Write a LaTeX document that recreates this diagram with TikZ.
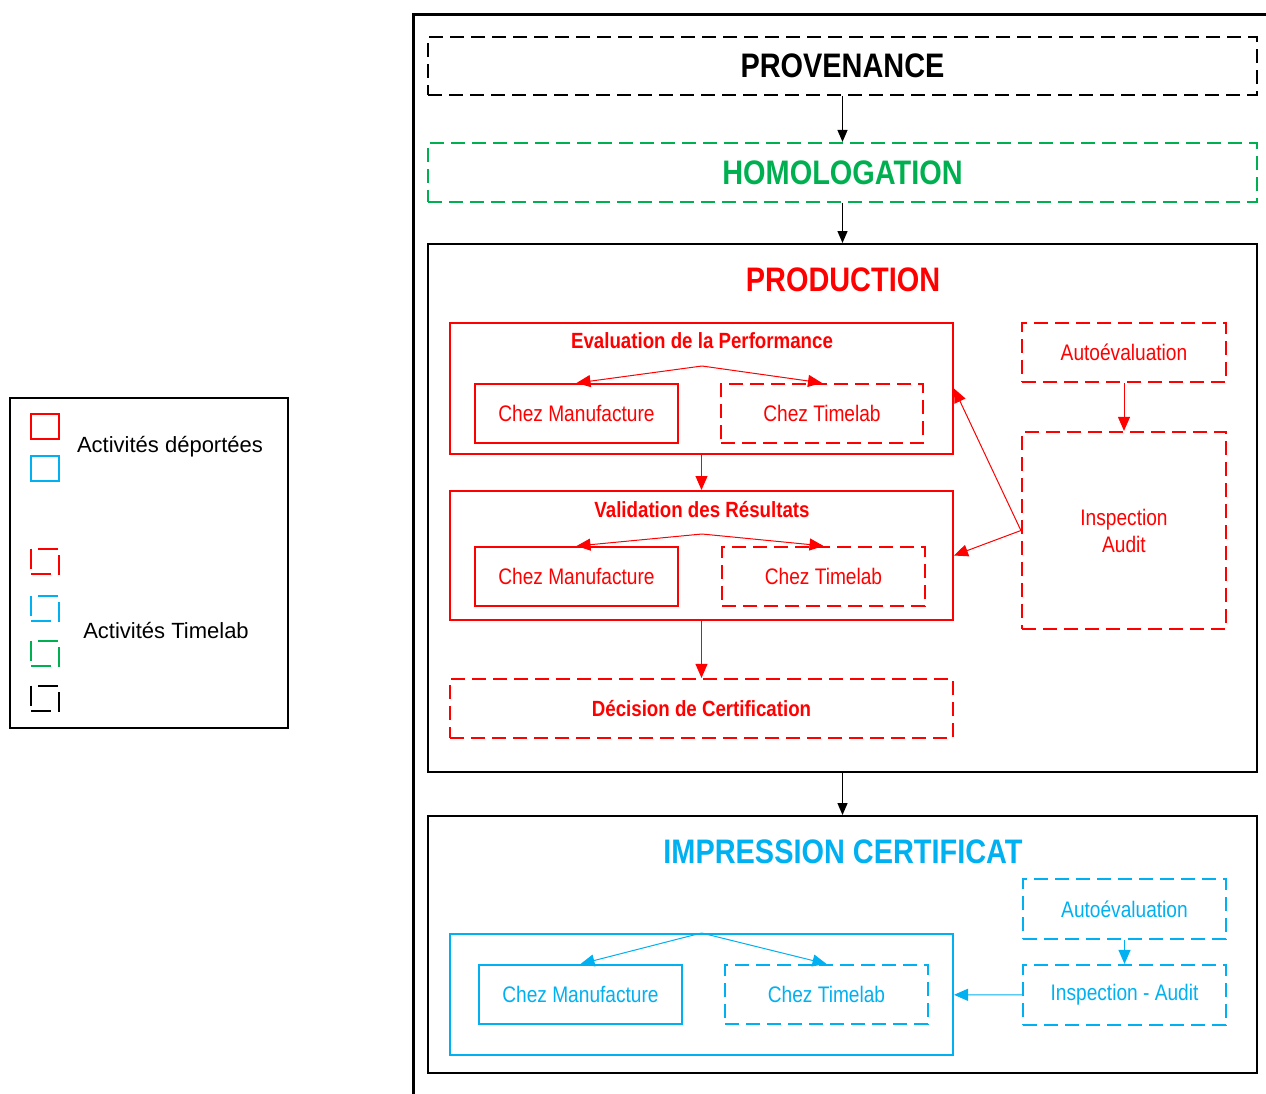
\documentclass[tikz,border=0pt]{standalone}
\usepackage{fontspec}
\setmainfont[FakeStretch=0.85]{Liberation Sans}
\newfontfamily\legendfont{Liberation Sans}
\usetikzlibrary{arrows.meta,positioning}
\definecolor{tlred}{RGB}{255,0,0}
\definecolor{tlblue}{RGB}{0,176,240}
\definecolor{tlgreen}{RGB}{0,176,80}
\tikzset{
  box/.style={draw, line width=2pt, inner sep=0pt, align=center},
  dbox/.style={box, line width=2.2pt, dash pattern=on 14pt off 7pt},
  keybox/.style={box, minimum width=28pt, minimum height=25pt},
  dkeybox/.style={keybox, dash pattern=on 20pt off 7pt},
  bigtext/.style={font=\bfseries\fontsize{34}{40}\selectfont},
  headtext/.style={font=\bfseries\fontsize{22}{26}\selectfont},
  boxtext/.style={font=\fontsize{22.5}{27}\selectfont},
  legendtext/.style={font=\legendfont\fontsize{22}{26}\selectfont},
  arr/.style={-{Triangle[length=12pt,width=10pt]}, line width=1.3pt},
  thinarr/.style={-{Triangle[length=14pt,width=12pt]}, line width=1pt},
}
\begin{document}
\begin{tikzpicture}[x=1pt, y=-1pt]
  \useasboundingbox (0,0) rectangle (1266,1093);

  % legend
  \node[box, minimum width=278pt, minimum height=330pt] (legend) at (149,563) {};
  \node[keybox, draw=tlred] (keyred) at (45,426) {};
  \node[keybox, draw=tlblue] (keyblue) at (45,468) {};
  \node[legendtext] (keydep) at (170,447) {Activités déportées};
  \node[dkeybox, draw=tlred] (dkeyred) at (45,561) {};
  \node[dkeybox, draw=tlblue] (dkeyblue) at (45,608) {};
  \node[dkeybox, draw=tlgreen] (dkeygreen) at (45,653) {};
  \node[dkeybox] (dkeyblack) at (45,698) {};
  \node[legendtext] (keytime) at (166,630) {Activités Timelab};

  % outer frame
  \draw[line width=3pt] (413,14) rectangle (1300,1120);

  \node[dbox, minimum width=829pt, minimum height=58pt, bigtext] (prov) at (842.5,66) {PROVENANCE};
  \node[dbox, draw=tlgreen, text=tlgreen, minimum width=829pt, minimum height=59pt, bigtext] (homol) at (842.5,172.5) {HOMOLOGATION};

  % production
  \node[box, minimum width=829pt, minimum height=528pt] (prod) at (842.5,508) {};
  \node[bigtext, text=tlred] (prodtitle) at (843,280) {PRODUCTION};

  \node[box, draw=tlred, minimum width=503pt, minimum height=131pt] (eval) at (701.5,388.5) {};
  \node[headtext, text=tlred] (evaltitle) at (702,341) {Evaluation de la Performance};
  \node[box, draw=tlred, text=tlred, boxtext, minimum width=203pt, minimum height=59pt] (evalman) at (576.5,413.5) {Chez Manufacture};
  \node[dbox, draw=tlred, text=tlred, boxtext, minimum width=202pt, minimum height=59pt] (evaltime) at (822,413.5) {Chez Timelab};
  \coordinate (evalsplit) at (702,366);

  \node[box, draw=tlred, minimum width=503pt, minimum height=129pt] (valid) at (701.5,555.5) {};
  \node[headtext, text=tlred] (validtitle) at (702,510) {Validation des Résultats};
  \node[box, draw=tlred, text=tlred, boxtext, minimum width=203pt, minimum height=59pt] (validman) at (576.5,576.5) {Chez Manufacture};
  \node[dbox, draw=tlred, text=tlred, boxtext, minimum width=203pt, minimum height=59pt] (validtime) at (823.5,576.5) {Chez Timelab};
  \coordinate (validsplit) at (702,534);

  \node[dbox, draw=tlred, text=tlred, headtext, minimum width=503pt, minimum height=59pt] (decision) at (701.5,708.5) {Décision de Certification};

  \node[dbox, draw=tlred, text=tlred, boxtext, minimum width=204pt, minimum height=59pt] (auto) at (1124,352.5) {Autoévaluation};
  \node[dbox, draw=tlred, text=tlred, boxtext, minimum width=204pt, minimum height=197pt] (insp) at (1124,530.5) {Inspection\\Audit};

  % impression
  \node[box, minimum width=829pt, minimum height=257pt] (impr) at (842.5,944.5) {};
  \node[bigtext, text=tlblue] (imprtitle) at (843,852) {IMPRESSION CERTIFICAT};
  \node[box, draw=tlblue, minimum width=503pt, minimum height=121pt] (bframe) at (701.5,994.5) {};
  \node[box, draw=tlblue, text=tlblue, boxtext, minimum width=203pt, minimum height=59pt] (bman) at (580.5,994.5) {Chez Manufacture};
  \node[dbox, draw=tlblue, text=tlblue, boxtext, minimum width=203pt, minimum height=59pt] (btime) at (826.5,994.5) {Chez Timelab};
  \node[dbox, draw=tlblue, text=tlblue, boxtext, minimum width=203pt, minimum height=60pt] (bauto) at (1124.5,909) {Autoévaluation};
  \node[dbox, draw=tlblue, text=tlblue, boxtext, minimum width=203pt, minimum height=60pt] (binsp) at (1124.5,995) {Inspection - Audit};

  \draw[arr] (prov) -- (homol);
  \draw[arr] (homol) -- (prod);
  \draw[arr] (prod) -- (impr);

  \draw[thinarr, tlred] (evalsplit) -- (evalman.north);
  \draw[thinarr, tlred] (evalsplit) -- (evaltime.north);
  \draw[thinarr, tlred] (eval) -- (valid);
  \draw[thinarr, tlred] (validsplit) -- (validman.north);
  \draw[thinarr, tlred] (validsplit) -- (validtime.north);
  \draw[thinarr, tlred] (valid) -- (decision);
  \draw[thinarr, tlred] (auto) -- (insp);
  \draw[thinarr, tlred] (insp.west) -- (eval.east);
  \draw[thinarr, tlred] (insp.west) -- (valid.east);

  \draw[thinarr, tlblue] (bframe.north) -- (bman.north);
  \draw[thinarr, tlblue] (bframe.north) -- (btime.north);
  \draw[thinarr, tlblue] (bauto) -- (binsp);
  \draw[thinarr, tlblue] (binsp) -- (bframe);
\end{tikzpicture}
\end{document}
